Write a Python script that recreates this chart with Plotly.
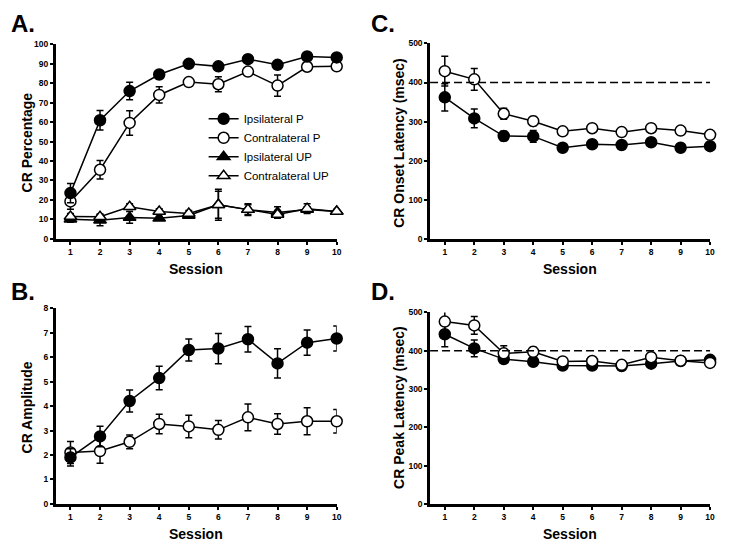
import plotly.graph_objects as go

# page body has an 8px default margin, so the figure is sized to fit the window
OFF = 8
W, H = 729 - OFF, 552 - OFF
FONT = "Arial, Liberation Sans, Helvetica, sans-serif"

sessions = [1, 2, 3, 4, 5, 6, 7, 8, 9, 10]

# Panel A: CR Percentage
a_ipsi_p = [23.5, 61, 76, 84.5, 90, 88.7, 92.4, 89.5, 93.8, 93.3]
a_ipsi_p_err = [5, 5, 4.5, 2, 1.5, 1.5, 1.5, 1.5, 1, 1]
a_contra_p = [19.2, 35.5, 59.6, 74, 80.6, 79.5, 86, 78.8, 88.5, 88.7]
a_contra_p_err = [4, 4.8, 6.3, 4.2, 2, 3.8, 2, 5.5, 1, 1]
a_ipsi_up = [10, 9.5, 11, 10.5, 12, 17.5, 15, 13.5, 15, 14]
a_ipsi_up_err = [1.5, 2.8, 3, 1, 1.5, 7, 2.5, 3, 1.5, 1]
a_contra_up = [11.5, 11.3, 16.5, 14, 13, 17.5, 15, 12.5, 15.5, 14]
a_contra_up_err = [1.5, 1.5, 1.5, 1.5, 1.5, 8, 3, 2, 2.5, 1]

# Panel B: CR Amplitude
b_ipsi = [1.9, 2.76, 4.21, 5.15, 6.3, 6.36, 6.74, 5.75, 6.6, 6.77]
b_ipsi_err = [0.35, 0.42, 0.45, 0.48, 0.45, 0.62, 0.52, 0.6, 0.52, 0.51]
b_contra = [2.1, 2.16, 2.54, 3.27, 3.17, 3.03, 3.54, 3.27, 3.38, 3.38]
b_contra_err = [0.45, 0.5, 0.28, 0.4, 0.46, 0.38, 0.55, 0.42, 0.55, 0.48]

# Panel C: CR Onset Latency
c_ipsi = [362, 308, 263, 262, 233, 242, 240, 247, 233, 237]
c_ipsi_err = [35, 24, 12, 15, 6, 10, 10, 10, 5, 8]
c_contra = [429, 408, 320, 301, 275, 283, 273, 283, 277, 266]
c_contra_err = [38, 28, 14, 12, 8, 10, 10, 9, 8, 10]

# Panel D: CR Peak Latency
d_ipsi = [443, 406, 378, 371, 361, 361, 360, 366, 373, 376]
d_ipsi_err = [33, 22, 10, 10, 6, 8, 6, 8, 5, 6]
d_contra = [476, 466, 393, 397, 372, 373, 363, 383, 374, 368]
d_contra_err = [28, 23, 20, 12, 8, 10, 6, 12, 6, 6]

isi_line = 400

y_ticks_a = [0, 10, 20, 30, 40, 50, 60, 70, 80, 90, 100]
y_ticks_b = [0, 1, 2, 3, 4, 5, 6, 7, 8]
y_ticks_cd = [0, 100, 200, 300, 400, 500]

fig = go.Figure()


def add(x_ax, y_ax, y, err, symbol, filled, name=None, show=False):
    fig.add_trace(go.Scatter(
        x=sessions, y=y, xaxis=x_ax, yaxis=y_ax,
        mode="lines+markers", name=name, showlegend=show,
        line=dict(color="black", width=1.5),
        marker=dict(symbol=symbol, size=11,
                    color="black" if filled else "white",
                    line=dict(color="black", width=1.5)),
        error_y=dict(type="data", array=err, color="black", thickness=1.5, width=3.5),
        cliponaxis=False,
    ))


add("x", "y", a_ipsi_up, a_ipsi_up_err, "triangle-up", True)
add("x", "y", a_contra_up, a_contra_up_err, "triangle-up", False)
add("x", "y", a_contra_p, a_contra_p_err, "circle", False)
add("x", "y", a_ipsi_p, a_ipsi_p_err, "circle", True)

add("x2", "y2", b_contra, b_contra_err, "circle", False)
add("x2", "y2", b_ipsi, b_ipsi_err, "circle", True)

add("x3", "y3", c_ipsi, c_ipsi_err, "circle", True)
add("x3", "y3", c_contra, c_contra_err, "circle", False)

add("x4", "y4", d_ipsi, d_ipsi_err, "circle", True)
add("x4", "y4", d_contra, d_contra_err, "circle", False)

# legend-only entries (ordered as in the reference)
legend_items = [("Ipsilateral P", "circle", True), ("Contralateral P", "circle", False),
                ("Ipsilateral UP", "triangle-up", True), ("Contralateral UP", "triangle-up", False)]
for nm, sym, filled in legend_items:
    fig.add_trace(go.Scatter(
        x=[None], y=[None], xaxis="x", yaxis="y", mode="lines+markers", name=nm,
        showlegend=True,
        line=dict(color="black", width=1.5),
        marker=dict(symbol=sym, size=11, color="black" if filled else "white",
                    line=dict(color="black", width=1.5)),
    ))


def fx(px):
    return (px - OFF) / W


def fy(py):
    return 1 - (py - OFF) / H


def px_dom_x(a, b):
    return [fx(a), fx(b)]


def px_dom_y(top, bottom):
    return [fy(bottom), fy(top)]


tickfont = dict(family=FONT, size=8.5, color="black", weight="bold")


def xaxis(dom, anchor):
    return dict(domain=dom, anchor=anchor, range=[0.5, 10], tickvals=sessions,
                showline=True, linecolor="black", linewidth=2.5, ticks="outside",
                ticklen=3, tickwidth=1.5, tickcolor="black", showgrid=False,
                zeroline=False, tickfont=tickfont)


def yaxis(dom, anchor, rng, tv):
    return dict(domain=dom, anchor=anchor, range=rng, tickvals=tv,
                showline=True, linecolor="black", linewidth=2.5, ticks="outside",
                ticklen=3, tickwidth=1.5, tickcolor="black", showgrid=False,
                zeroline=False, tickfont=tickfont)


fig.update_layout(
    width=W, height=H, margin=dict(l=0, r=0, t=0, b=0),
    paper_bgcolor="white", plot_bgcolor="white",
    font=dict(family=FONT, color="black"),
    xaxis=xaxis(px_dom_x(56, 339), "y"),
    yaxis=yaxis(px_dom_y(40, 238), "x", [0, 100], y_ticks_a),
    xaxis2=xaxis(px_dom_x(56, 339), "y2"),
    yaxis2=yaxis(px_dom_y(309, 508), "x2", [0, 8], y_ticks_b),
    xaxis3=xaxis(px_dom_x(433, 715), "y3"),
    yaxis3=yaxis(px_dom_y(39, 238), "x3", [0, 500], y_ticks_cd),
    xaxis4=xaxis(px_dom_x(433, 715), "y4"),
    yaxis4=yaxis(px_dom_y(313, 508), "x4", [0, 500], y_ticks_cd),
    legend=dict(x=fx(205), y=fy(101), xanchor="left", yanchor="top",
                bgcolor="rgba(0,0,0,0)", font=dict(family=FONT, size=11.5, color="black"),
                itemwidth=30, tracegroupgap=0),
    showlegend=True,
)

for xr, yr in [("x3", "y3"), ("x4", "y4")]:
    fig.add_shape(type="line", xref=xr, yref=yr, x0=0.5, x1=10, y0=isi_line, y1=isi_line,
                  line=dict(color="black", width=1.5, dash="8px,4px"))

ann = []


def text(x, y, s, size, angle=0):
    ann.append(dict(x=fx(x), y=fy(y), xref="paper", yref="paper", text=s,
                    showarrow=False, textangle=angle, xanchor="center", yanchor="middle",
                    font=dict(family=FONT, size=size, color="black", weight="bold")))


text(197, 269, "Session", 14)
text(197, 539, "Session", 14)
text(574, 269, "Session", 14)
text(574, 539, "Session", 14)
text(27, 140, "CR Percentage", 14, -90)
text(27, 410, "CR Amplitude", 14, -90)
text(401, 140, "CR Onset Latency (msec)", 14, -90)
text(401, 410, "CR Peak Latency (msec)", 14, -90)
text(23, 19, "A.", 24)
text(23, 292, "B.", 24)
text(386, 19, "C.", 24)
text(386, 292, "D.", 24)
fig.update_layout(annotations=ann)

fig.write_html("out.html")
